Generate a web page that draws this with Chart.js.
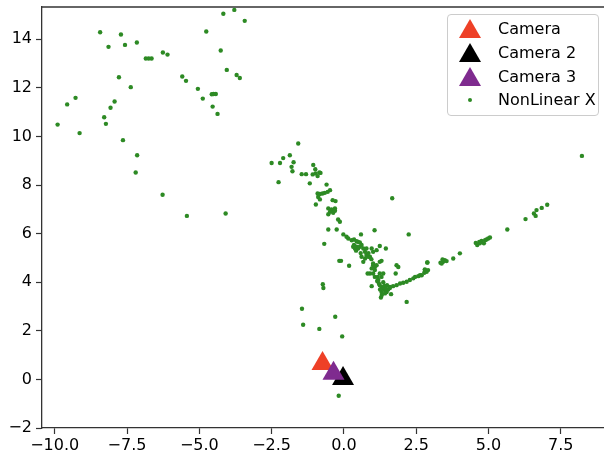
<!DOCTYPE html>
<html><head><meta charset="utf-8">
<script src="https://cdn.jsdelivr.net/npm/chart.js@4"></script>
<style>
html,body{margin:0;padding:0;background:#fff;overflow:hidden;width:604px;height:461px;}
#wrap{position:absolute;left:0;top:0;width:660px;height:461px;}
#legend{position:absolute;left:447px;top:14px;width:150px;height:100px;border:1px solid #cccccc;border-radius:4px;background:rgba(255,255,255,0.8);font-family:'DejaVu Sans';font-size:16px;color:#000;}
.row{position:absolute;left:0;width:150px;height:24px;line-height:24px;white-space:nowrap;}
.mk{position:absolute;left:10px;top:0;width:24px;height:24px;}
.tx{position:absolute;left:50px;top:0;}
</style></head>
<body>
<div id="wrap"><canvas id="c" width="660" height="461"></canvas></div>
<div id="legend"></div>
<script>
// ---- data ----
const seriesLabels = ['Camera', 'Camera 2', 'Camera 3', 'NonLinear X'];
const seriesColors = ['#ee4027', '#000000', '#7f2b8f', '#2d8a24'];
const cameraPts  = [[-0.74, 0.65]];
const camera2Pts = [[-0.03, 0.03]];
const camera3Pts = [[-0.36, 0.25]];
const nonLinearPts = [
  [-8.43,14.29],[-7.71,14.20],[-8.14,13.69],[-7.57,13.77],[-7.16,13.87],[-6.85,13.21],[-6.75,13.21],[-6.65,13.21],
  [-6.26,13.46],[-6.10,13.37],[-7.78,12.44],[-7.37,12.03],[-9.90,10.49],[-9.57,11.32],[-9.28,11.59],[-9.14,10.14],
  [-8.29,10.79],[-8.23,10.52],[-8.07,11.18],[-7.93,11.44],[-7.64,9.85],[-7.15,9.23],[-7.20,8.52],[-6.27,7.60],
  [-5.43,6.73],[-4.09,6.83],[-4.17,15.05],[-3.79,15.21],[-3.43,14.76],[-4.76,14.32],[-4.26,13.54],[-4.05,12.74],
  [-3.71,12.53],[-3.60,12.41],[-5.59,12.47],[-5.46,12.29],[-5.05,11.96],[-4.88,11.56],[-4.57,11.74],[-4.51,11.75],
  [-4.43,11.75],[-4.54,11.23],[-4.37,10.93],
  [-2.50,8.91],[-2.21,8.91],[-2.26,8.12],[-2.10,9.11],[-1.87,9.23],[-1.74,8.94],[-1.81,8.75],[-1.78,8.57],
  [-1.58,9.71],[-1.46,8.45],[-1.31,8.45],[-1.06,8.83],[-0.99,8.65],[-1.08,8.44],[-0.98,8.48],[-0.91,8.37],
  [-0.81,8.50],[-0.85,8.52],[-1.18,8.07],[-0.60,8.02],[-0.48,7.79],[-0.56,7.72],[-0.66,7.68],[-0.74,7.65],
  [-0.83,7.63],[-0.91,7.65],[-0.89,7.51],[-0.83,7.41],[-0.97,7.20],[-0.39,7.38],[-0.29,7.34],[-0.54,7.04],
  [-0.43,7.00],[-0.31,7.04],[-0.48,6.90],[-0.37,6.86],[-0.54,6.80],[-0.31,6.94],[-0.20,6.58],[-0.14,6.49],
  [-0.54,6.17],[-0.25,6.17],[-0.68,5.58],[1.67,7.46],
  [-0.02,5.97],[0.09,5.87],[0.15,5.80],[0.59,5.97],[1.06,6.14],[0.27,5.73],[0.35,5.76],[0.44,5.69],
  [0.49,5.66],[0.55,5.64],[0.32,5.46],[0.38,5.39],[0.44,5.46],[0.49,5.39],[0.55,5.46],[0.61,5.53],
  [0.67,5.39],[0.73,5.25],[0.78,5.39],[0.35,5.54],[1.24,5.49],[1.45,5.39],[0.96,5.39],[1.01,5.25],
  [-0.16,4.88],[-0.10,4.88],[0.18,4.68],[0.61,5.05],[0.73,4.98],[0.67,4.84],[0.78,5.12],[0.90,5.05],
  [1.01,4.70],[1.07,4.63],[0.96,4.57],[1.07,4.50],[1.01,4.77],[1.24,4.84],[0.90,4.36],[1.01,4.36],
  [1.24,4.36],[1.30,4.22],[1.07,4.22],[0.82,4.36],[1.13,5.32],[0.84,5.05],[1.13,4.70],[1.36,4.36],
  [1.30,4.88],[1.82,4.70],[1.88,4.63],[1.79,4.36],[2.24,5.97],[2.89,4.81],[2.80,4.50],[2.86,4.43],
  [2.78,4.39],[0.96,3.84],[0.42,5.30],[0.58,5.20],[0.85,5.20],[0.95,4.95],
  [1.17,4.22],[1.19,4.09],[1.21,3.95],[1.24,3.88],[1.30,3.81],[1.36,3.74],[1.42,3.67],[1.48,3.60],
  [1.53,3.70],[1.42,3.54],[1.30,3.60],[1.36,4.00],[1.49,3.88],[1.59,3.76],[1.31,3.47],[1.15,4.05],
  [1.25,3.70],[1.40,3.85],[1.45,3.75],
  [1.59,3.81],[1.70,3.84],[1.82,3.88],[1.94,3.95],[2.05,3.98],[2.17,4.02],[2.28,4.09],[2.40,4.16],
  [2.46,4.22],[2.57,4.25],[2.63,4.29],[1.28,3.37],[1.63,3.51],[2.17,3.19],
  [2.69,4.29],[2.80,4.53],[2.91,4.50],[2.88,4.81],[3.38,4.77],[3.43,4.84],[3.49,4.91],[3.55,4.87],
  [3.41,4.94],[3.34,4.80],[3.78,4.98],[4.01,5.19],[4.56,5.62],[4.61,5.53],[4.68,5.66],[4.76,5.70],
  [4.84,5.60],[4.88,5.73],[4.93,5.76],[4.99,5.80],[5.05,5.84],[4.70,5.60],[5.65,6.17],[6.28,6.60],
  [6.57,6.83],[6.63,6.73],[6.66,6.97],[6.84,7.06],[7.03,7.19],[8.23,9.20],
  [-0.73,3.92],[-0.71,3.76],[-1.45,2.91],[-0.30,2.58],[-1.41,2.25],[-0.85,2.08],[-0.06,1.77],[-0.18,-0.67]
];
const xTickValues = [-10, -7.5, -5, -2.5, 0, 2.5, 5, 7.5];
const xTickLabels = ['\u221210.0', '\u22127.5', '\u22125.0', '\u22122.5', '0.0', '2.5', '5.0', '7.5'];
const yTickValues = [-2, 0, 2, 4, 6, 8, 10, 12, 14];
const yTickLabels = ['\u22122', '0', '2', '4', '6', '8', '10', '12', '14'];

// ---- chart ----
const toXY = pts => pts.map(p => ({x: p[0], y: p[1]}));
const FONT = {family: 'DejaVu Sans', size: 16};
const SPINE = '#333333';
const zeroPad = s => { s.paddingLeft = 0; s.paddingRight = 0; s.paddingTop = 0; s.paddingBottom = 0; };

const topSpine = {
  id: 'topSpine',
  beforeDatasetsDraw(c) {
    const {ctx, chartArea: a} = c;
    ctx.save();
    ctx.strokeStyle = SPINE; ctx.lineWidth = 1.3;
    ctx.beginPath(); ctx.moveTo(a.left, a.top); ctx.lineTo(a.right, a.top); ctx.stroke();
    ctx.restore();
  }
};

function triSet(i, pts, order) {
  return {
    label: seriesLabels[i], data: toXY(pts), order: order,
    pointStyle: 'triangle', pointRadius: 12.7, pointHoverRadius: 12.7,
    pointBackgroundColor: seriesColors[i], pointBorderColor: seriesColors[i], pointBorderWidth: 0,
    backgroundColor: seriesColors[i], borderColor: seriesColors[i], showLine: false
  };
}

new Chart(document.getElementById('c'), {
  type: 'scatter',
  data: {
    datasets: [
      triSet(0, cameraPts, 3),
      triSet(1, camera2Pts, 2),
      triSet(2, camera3Pts, 1),
      {
        label: seriesLabels[3], data: toXY(nonLinearPts), order: 0,
        pointStyle: 'circle', pointRadius: 2.2, pointHoverRadius: 2.2,
        pointBackgroundColor: seriesColors[3], pointBorderWidth: 0,
        backgroundColor: seriesColors[3], borderColor: seriesColors[3], showLine: false
      }
    ]
  },
  options: {
    responsive: false, animation: false, devicePixelRatio: 1,
    layout: {autoPadding: false, padding: {top: 7, left: 0, right: 0, bottom: 0}},
    plugins: {legend: {display: false}, tooltip: {enabled: false}},
    events: [],
    scales: {
      x: {
        type: 'linear', min: -10.44, max: 10.93,
        afterBuildTicks: s => { s.ticks = xTickValues.map(v => ({value: v})); },
        afterFit: s => { s.height = 33; zeroPad(s); },
        ticks: {font: FONT, color: '#000', padding: 2, maxRotation: 0,
                callback: v => xTickLabels[xTickValues.indexOf(v)]},
        grid: {drawOnChartArea: false, drawTicks: true, tickLength: 6, tickColor: SPINE, tickWidth: 1.2},
        border: {color: SPINE, width: 1.3}
      },
      y: {
        type: 'linear', min: -2, max: 15.33,
        afterBuildTicks: s => { s.ticks = yTickValues.map(v => ({value: v})); },
        afterFit: s => { s.width = 42; zeroPad(s); },
        ticks: {font: FONT, color: '#000', padding: 4,
                callback: v => yTickLabels[yTickValues.indexOf(v)]},
        grid: {drawOnChartArea: false, drawTicks: true, tickLength: 6, tickColor: SPINE, tickWidth: 1.2},
        border: {color: SPINE, width: 1.3}
      }
    }
  },
  plugins: [topSpine]
});

// ---- legend ----
const legend = document.getElementById('legend');
const rowCenters = [13.7, 37.7, 62, 85.3];
seriesLabels.forEach((lab, i) => {
  const row = document.createElement('div');
  row.className = 'row';
  row.style.top = (rowCenters[i] - 12) + 'px';
  const mk = document.createElement('div');
  mk.className = 'mk';
  const shape = document.createElement('div');
  shape.style.position = 'absolute';
  if (i < 3) {
    shape.style.left = '1px'; shape.style.top = '2px';
    shape.style.width = '0'; shape.style.height = '0';
    shape.style.borderLeft = '11px solid transparent';
    shape.style.borderRight = '11px solid transparent';
    shape.style.borderBottom = '19px solid ' + seriesColors[i];
  } else {
    shape.style.left = '10px'; shape.style.top = '10px';
    shape.style.width = '4px'; shape.style.height = '4px';
    shape.style.borderRadius = '50%';
    shape.style.background = seriesColors[i];
  }
  mk.appendChild(shape);
  const tx = document.createElement('div');
  tx.className = 'tx';
  tx.textContent = lab;
  row.appendChild(mk); row.appendChild(tx);
  legend.appendChild(row);
});
</script>
</body></html>
